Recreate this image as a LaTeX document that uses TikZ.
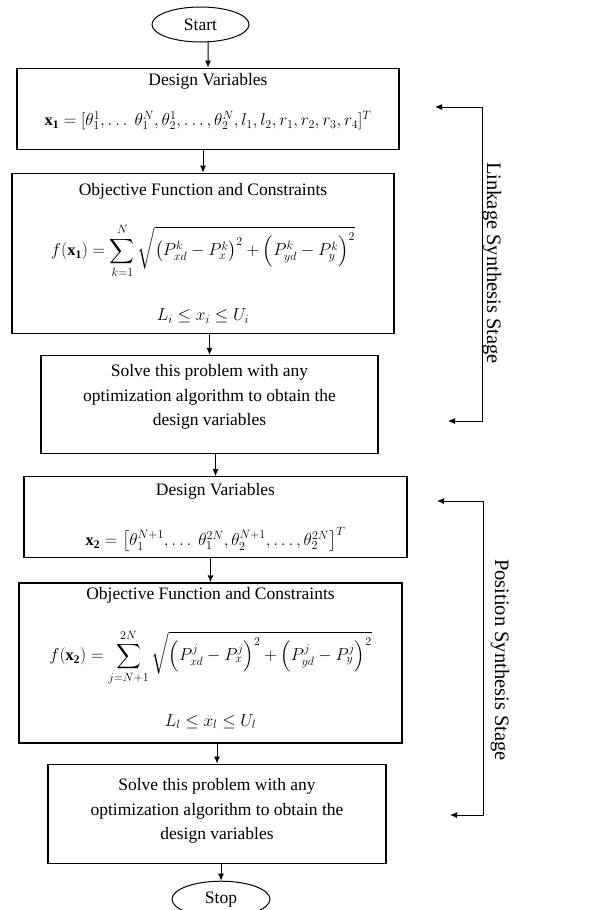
\documentclass[tikz,border=0pt]{standalone}
\usepackage{amsmath}
\usepackage{fontspec}
\setmainfont{Liberation Serif}
\usepackage{tikz}
\usetikzlibrary{arrows.meta, positioning, shapes.geometric}
\newcommand{\mathsize}{\fontsize{16.5}{24.5}\selectfont}

\begin{document}
\begin{tikzpicture}[
			x=1pt, y=-1pt,
			font=\fontsize{17.5}{24.5}\selectfont,
			terminal/.style={ellipse, draw, line width=1pt, minimum width=97pt, minimum height=35pt, inner sep=0pt},
			block/.style={rectangle, draw, line width=1.2pt, align=center, inner xsep=4pt, inner ysep=0pt},
			arrow/.style={-{Latex[length=7pt, width=6pt]}, line width=1pt},
			bracket/.style={{Latex[length=7pt, width=6pt]}-{Latex[length=7pt, width=6pt]}, line width=1pt},
			stage/.style={rotate=-90, inner sep=0pt, font=\fontsize{20.5}{24}\selectfont}
		]
		\useasboundingbox (0,0) rectangle (595,910);
		\node[terminal] (start) at (200.5,24.5) {Start};
		\node[block, below=25pt of start, xshift=7.5pt, minimum width=382pt, minimum height=81pt] (design1) {Design Variables\\[16pt]
			{\mathsize$\mathbf{x_1}=[\theta_1^1,\ldots\ \theta_1^N,\theta_2^1,\ldots,\theta_2^N,l_1,l_2,r_1,r_2,r_3,r_4]^T$}\\[-6pt]\mbox{}};
		\node[block, below=23pt of design1, xshift=-5pt, minimum width=382pt, minimum height=160pt] (objective1) {Objective Function and Constraints\\[24pt]
			{\mathsize$\displaystyle f(\mathbf{x_1})=\sum_{k=1}^{N}\sqrt{\left(P_{xd}^k-P_x^k\right)^2+\left(P_{yd}^k-P_y^k\right)^2}$}\\[30pt]
			{\mathsize$L_i\le x_i\le U_i$}};
		\node[block, below=21pt of objective1, xshift=6.5pt, minimum width=337pt, minimum height=98pt] (solve1) {Solve this problem with any\\optimization algorithm to obtain the\\design variables\\[-6pt]\mbox{}};
		\node[block, below=22pt of solve1, xshift=6pt, minimum width=383pt, minimum height=81pt] (design2) {Design Variables\\[26pt]
			{\mathsize$\mathbf{x_2}=\left[\theta_1^{N+1},\ldots\ \theta_1^{2N},\theta_2^{N+1},\ldots,\theta_2^{2N}\right]^T$}};
		\node[block, below=24pt of design2, xshift=-5pt, minimum width=383pt, minimum height=160pt] (objective2) {Objective Function and Constraints\\[25pt]
			{\mathsize$\displaystyle f(\mathbf{x_2})=\sum_{j=N+1}^{2N}\sqrt{\left(P_{xd}^j-P_x^j\right)^2+\left(P_{yd}^j-P_y^j\right)^2}$}\\[28pt]
			{\mathsize$L_l\le x_l\le U_l$}\\[-12pt]\mbox{}};
		\node[block, below=20pt of objective2, xshift=6.5pt, minimum width=338pt, minimum height=99pt] (solve2) {Solve this problem with any\\optimization algorithm to obtain the\\design variables\\[-16pt]\mbox{}};
		\node[terminal, below=17pt of solve2, xshift=4pt, minimum width=98pt, minimum height=36pt] (stop) {Stop};
		
		\draw[arrow] (start) -- (start.south -| design1.north) -- (design1.north);
		\draw[arrow] (design1.south -| objective1.north) -- (objective1.north);
		\draw[arrow] (objective1.south -| solve1.north) -- (solve1.north);
		\draw[arrow] (solve1.south -| design2.north) -- (design2.north);
		\draw[arrow] (design2.south -| objective2.north) -- (objective2.north);
		\draw[arrow] (objective2.south -| solve2.north) -- (solve2.north);
		\draw[arrow] (solve2.south -| stop.north) -- (stop.north);
		
		% stage brackets
		\coordinate (linktop) at (435,107);
		\coordinate (linkbot) at (448,421);
		\coordinate (linkcorner) at (482,421);
		\draw[bracket] (linktop) -| (linkcorner) -- (linkbot);
		\node[stage] (linklabel) at (492,263) {Linkage Synthesis Stage};
		
		\coordinate (postop) at (437,501);
		\coordinate (posbot) at (450,815);
		\coordinate (poscorner) at (483,815);
		\draw[bracket] (postop) -| (poscorner) -- (posbot);
		\node[stage] (poslabel) at (500,660) {Position Synthesis Stage};
\end{tikzpicture}
\end{document}
